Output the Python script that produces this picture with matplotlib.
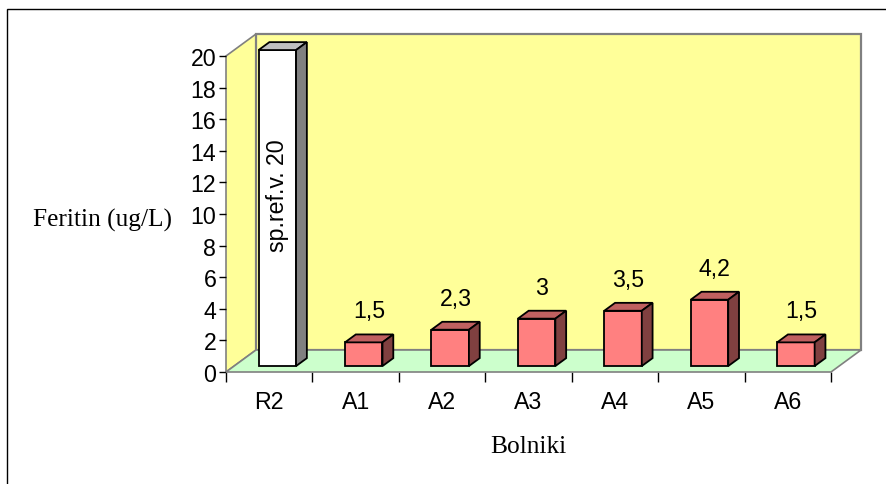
import numpy as np
import matplotlib
matplotlib.use("Agg")
import matplotlib.pyplot as plt
from matplotlib.patches import Polygon, Rectangle

# data
categories = ["R2", "A1", "A2", "A3", "A4", "A5", "A6"]
values = [20, 1.5, 2.3, 3, 3.5, 4.2, 1.5]
bar_labels = ["sp.ref.v. 20", "1,5", "2,3", "3", "3,5", "4,2", "1,5"]
yticks = list(range(0, 21, 2))

W, H = 887, 485
fig = plt.figure(figsize=(W / 100, H / 100), dpi=100)
fig.patch.set_facecolor("white")

# plot area in pixels: front-left axis x=226, front floor y=373, top tick y=57
ax = fig.add_axes([226 / W, (H - 373) / H, 605 / W, 316 / H])
ax.set_xlim(-0.5, 6.5)
ax.set_ylim(0, 20)
ax.patch.set_visible(False)
for s in ax.spines.values():
    s.set_visible(False)

# depth of the 3d box (30px right, 22px up) in data units
px_x = 605 / 7.0
px_y = 316 / 20.0
dx = 30 / px_x
dy = 22 / px_y
gray = "#808080"
wall = "#FFFF99"
floor = "#CCFFCC"
x0, x1 = -0.5, 6.5
sans = "Liberation Sans"
serif = "Liberation Serif"

# left wall, back wall, floor
ax.add_patch(Polygon([(x0, 0), (x0, 20), (x0 + dx, 20 + dy), (x0 + dx, dy)],
                     closed=True, fc=wall, ec=gray, lw=1.2, clip_on=False, zorder=1))
ax.add_patch(Polygon([(x0 + dx, dy), (x0 + dx, 20 + dy), (x1 + dx, 20 + dy), (x1 + dx, dy)],
                     closed=True, fc=wall, ec=gray, lw=1.6, clip_on=False, zorder=1))
ax.add_patch(Polygon([(x0, 0), (x1, 0), (x1 + dx, dy), (x0 + dx, dy)],
                     closed=True, fc=floor, ec=gray, lw=1.2, clip_on=False, zorder=2))

# bars
fpos = 0.27   # front face position within depth
bdep = 0.36   # bar depth as fraction of box depth
bw = 37.5 / px_x
bdx, bdy = bdep * dx, bdep * dy
xs = np.arange(len(categories)) + fpos * dx
base = fpos * dy
fronts = ["#FFFFFF"] + ["#FF8080"] * 6
tops = ["#C0C0C0"] + ["#C06060"] * 6
sides = ["#808080"] + ["#804040"] * 6

ax.bar(xs, values, width=bw, bottom=base, color=fronts, edgecolor="black",
       linewidth=1.3, zorder=4, clip_on=False)
for i, v in enumerate(values):
    l = xs[i] - bw / 2
    r = xs[i] + bw / 2
    t = base + v
    ax.add_patch(Polygon([(l, t), (r, t), (r + bdx, t + bdy), (l + bdx, t + bdy)],
                         closed=True, fc=tops[i], ec="black", lw=1.3, zorder=4, clip_on=False))
    ax.add_patch(Polygon([(r, base), (r, t), (r + bdx, t + bdy), (r + bdx, base + bdy)],
                         closed=True, fc=sides[i], ec="black", lw=1.3, zorder=4, clip_on=False))

# value labels
for i, v in enumerate(values):
    if i == 0:
        ax.text(xs[i], 11.2, bar_labels[i], rotation=90, ha="center", va="center",
                fontsize=16.7, family=sans, zorder=5)
    else:
        ax.annotate(bar_labels[i], (xs[i] + bdx / 2, base + v + bdy),
                    xytext=(0, 17), textcoords="offset points", ha="center",
                    va="center", fontsize=16.7, family=sans, zorder=5)

# axes ticks
ax.set_yticks(yticks)
ax.set_yticklabels([str(t) for t in yticks], family=sans, fontsize=16.7)
ax.tick_params(axis="y", direction="out", length=5, width=1, color="black", pad=2)
ax.set_xticks(np.arange(len(categories)))
ax.set_xticklabels(categories, family=sans, fontsize=16.7)
ax.set_xticks(np.arange(-0.5, 7.0, 1.0), minor=True)
ax.tick_params(axis="x", which="major", length=0, pad=13)
ax.tick_params(axis="x", which="minor", direction="out", length=7, width=1, color="black")

ax.set_xlabel("Bolniki", family=serif, fontsize=18.3, labelpad=16)
fig.text(103 / W, 1 - 220 / H, "Feritin (ug/L)", family=serif,
         fontsize=18.3, ha="center", va="center")

# outer chart border
fig.patches.append(Rectangle((7.5 / W, -0.1), 2, 1 - 9.5 / H + 0.1,
                             transform=fig.transFigure, fill=False,
                             ec="black", lw=1.0))

fig.savefig("out.png", dpi=100)
